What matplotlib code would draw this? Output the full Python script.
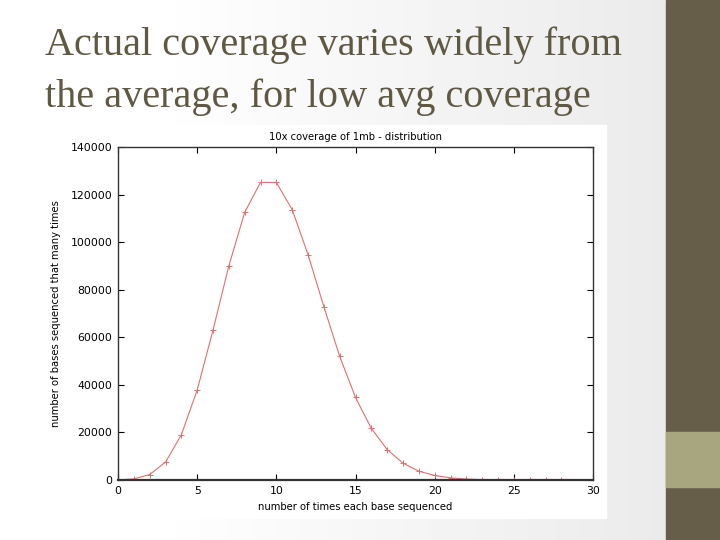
import numpy as np
import matplotlib.pyplot as plt

# reads off the gnuplot picture: bases seen k times, 10x coverage of 1mb
times = list(range(0, 29))
bases = [50, 450, 2300, 7500, 19000, 37800, 63000, 90000, 112500, 125100,
         125100, 113700, 94800, 72900, 52000, 34700, 21700, 12800, 7100, 3700,
         1900, 900, 400, 170, 70, 30, 12, 5, 2]

title_lines = ["Actual coverage varies widely from",
               "the average, for low avg coverage"]
plot_title = "10x coverage of 1mb - distribution"
xlab = "number of times each base sequenced"
ylab = "number of bases sequenced that many times"

W, H = 720, 540
fig = plt.figure(figsize=(7.2, 5.4), dpi=100)

# slide background: white on the left, fading to light grey
bg = fig.add_axes([0, 0, 1, 1])
px = np.arange(W)
grad = np.clip(1.0 - (px - 150) / (666 - 150) * 0.08, 0.92, 1.0)
bg.imshow(np.tile(grad, (2, 1)), cmap='gray', vmin=0, vmax=1, aspect='auto',
          extent=[0, W, 0, H])
bg.set_xlim(0, W)
bg.set_ylim(H, 0)
bg.axis('off')

# right-hand side bar
bg.add_patch(plt.Rectangle((666, 0), W - 666, H, color='#665e48', zorder=3))
bg.add_patch(plt.Rectangle((666, 432), W - 666, 55, color='#a8a67e', zorder=4))

# white box of the embedded plot image
bg.add_patch(plt.Rectangle((40, 125), 566, 393, color='white', zorder=2))

for i, line in enumerate(title_lines):
    bg.text(45, 55 + 52 * i, line, fontsize=29, family='Liberation Serif',
            color='#5f5843', va='baseline', zorder=5)

ax = fig.add_axes([118 / W, 1 - 480 / H, 475 / W, 333 / H])
ax.plot(times, bases, color='#e07070', lw=0.8, marker='+', ms=5, mew=0.7)
ax.set_xlim(0, 30)
ax.set_ylim(0, 140000)
ax.set_xticks(range(0, 31, 5))
ax.set_yticks(range(0, 140001, 20000))
ax.tick_params(direction='in', top=True, right=True, labelsize=7.8, length=4,
               width=0.8, pad=4)
for s in ax.spines.values():
    s.set_linewidth(1.0)
    s.set_color('#333333')
ax.spines['bottom'].set_linewidth(1.6)
ax.set_title(plot_title, fontsize=7.2, pad=5)
ax.set_xlabel(xlab, fontsize=7.2, labelpad=5)
ax.set_ylabel(ylab, fontsize=7.2, labelpad=7)

fig.savefig('out.png', dpi=100)
